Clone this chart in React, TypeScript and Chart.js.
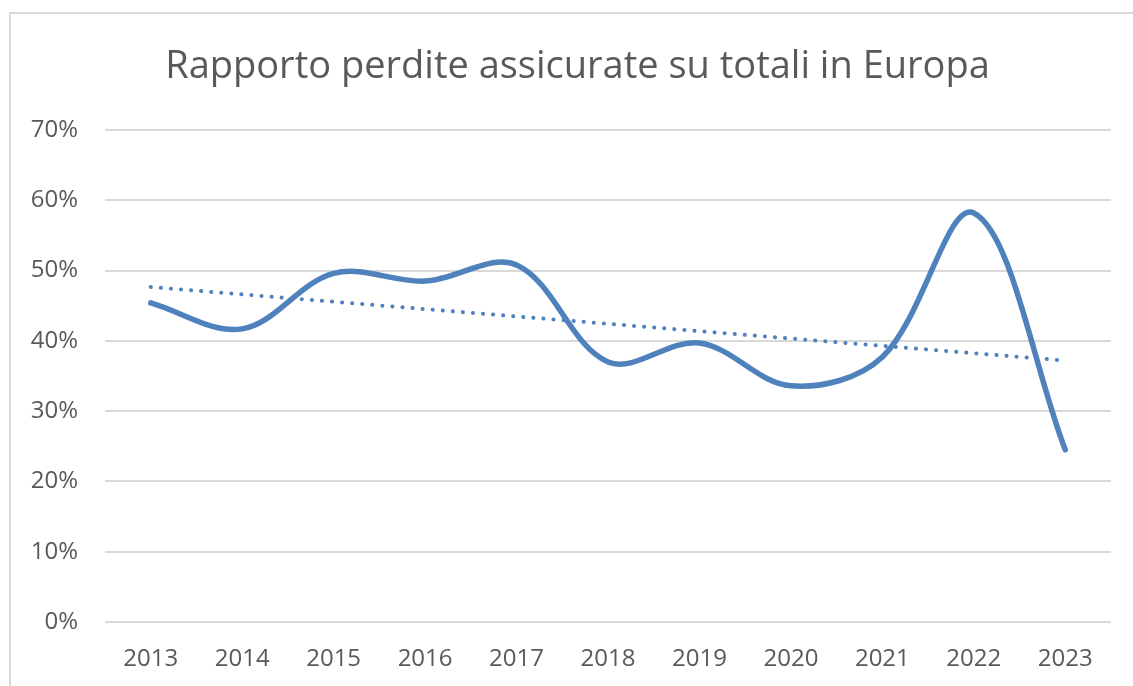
import React, { useEffect, useRef } from "react";
import { Chart, registerables } from "chart.js";

Chart.register(...registerables);

const titleText = "Rapporto perdite assicurate su totali in Europa";
const years = ["2013", "2014", "2015", "2016", "2017", "2018", "2019", "2020", "2021", "2022", "2023"];
const ratioPct = [45.4, 41.7, 49.6, 48.5, 50.8, 37.0, 39.7, 33.6, 37.7, 58.2, 24.5];
const yTicksMax = 70;
const yTickStep = 10;

function linearTrend(values: number[]): number[] {
  const n = values.length;
  const xs = values.map((_, i) => i);
  const mx = xs.reduce((a, b) => a + b, 0) / n;
  const my = values.reduce((a, b) => a + b, 0) / n;
  let num = 0;
  let den = 0;
  for (let i = 0; i < n; i++) {
    num += (xs[i] - mx) * (values[i] - my);
    den += (xs[i] - mx) * (xs[i] - mx);
  }
  const slope = num / den;
  return xs.map((x) => my + slope * (x - mx));
}

const FONT = "'Open Sans', sans-serif";
const TEXT = "#595959";
const GRID = "#d9d9d9";
const BLUE = "#4f81bd";

const titlePlugin = {
  id: "offsetTitle",
  afterDraw(chart: any) {
    const ctx = chart.ctx;
    ctx.save();
    ctx.font = `normal 38px ${FONT}`;
    ctx.fillStyle = TEXT;
    ctx.textAlign = "center";
    ctx.textBaseline = "alphabetic";
    ctx.fillText(titleText, 577.5, 78);
    ctx.restore();
  },
};

export default function App() {
  const ref = useRef<HTMLCanvasElement | null>(null);

  useEffect(() => {
    if (!ref.current) return;
    const chart = new Chart(ref.current, {
      type: "line",
      data: {
        labels: years,
        datasets: [
          {
            label: "Rapporto",
            data: ratioPct,
            borderColor: BLUE,
            backgroundColor: BLUE,
            borderWidth: 5.5,
            borderCapStyle: "round",
            borderJoinStyle: "round",
            pointRadius: 0,
            tension: 0.35,
            fill: false,
          },
          {
            label: "Tendenza",
            data: linearTrend(ratioPct),
            borderColor: BLUE,
            backgroundColor: BLUE,
            borderWidth: 4,
            borderCapStyle: "round",
            borderDash: [0.1, 10],
            pointRadius: 0,
            tension: 0,
            fill: false,
          },
        ],
      },
      plugins: [titlePlugin],
      options: {
        responsive: false,
        animation: false,
        layout: { padding: { left: 0, right: 22, top: 130, bottom: 0 } },
        plugins: {
          legend: { display: false },
          tooltip: { enabled: false },
          title: { display: false },
        },
        scales: {
          x: {
            offset: true,
            afterFit: (scale: any) => {
              scale.height = 64;
            },
            grid: { display: false, drawTicks: false },
            border: { display: false },
            ticks: {
              color: TEXT,
              font: { family: FONT, size: 24 },
              padding: 23,
              maxRotation: 0,
              autoSkip: false,
            },
          },
          y: {
            min: 0,
            max: yTicksMax,
            afterFit: (scale: any) => {
              scale.width = 105;
            },
            grid: { color: GRID, lineWidth: 2, drawTicks: false },
            border: { display: false },
            ticks: {
              stepSize: yTickStep,
              color: TEXT,
              font: { family: FONT, size: 24 },
              padding: 27,
              callback: (v: any) => `${v}%`,
            },
          },
        },
      },
    });
    return () => chart.destroy();
  }, []);

  return (
    <div>
      <div
        style={{
          position: "fixed",
          left: 9,
          top: 12,
          width: 1300,
          height: 800,
          border: `2px solid ${GRID}`,
          boxSizing: "border-box",
        }}
      />
      <canvas
        ref={ref}
        width={1133}
        height={686}
        style={{ position: "fixed", left: 0, top: 0, width: 1133, height: 686 }}
      />
    </div>
  );
}
